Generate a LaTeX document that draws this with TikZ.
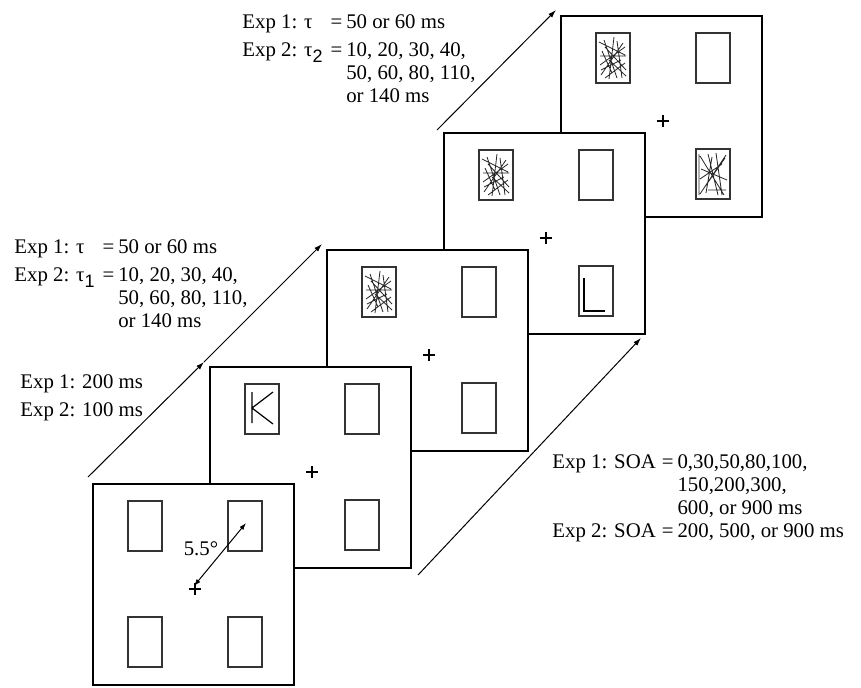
\documentclass[tikz,border=0pt]{standalone}
\usepackage{fontspec}
\setmainfont{Liberation Serif}
\setsansfont{Liberation Sans}
\usetikzlibrary{arrows.meta}

% subscript digit as in the original figure
\newcommand{\sub}[1]{\raisebox{-3pt}{\sffamily\fontsize{9}{9}\selectfont #1}}

% one display: frame, four placeholders and the fixation cross
\newcommand{\stimframe}[2]{%
\draw[frm] (#1,#2) rectangle ++(201,201);
\foreach \dx in {35,135} \foreach \dy in {17,133} {\draw[slot] (#1+\dx,#2+\dy) rectangle ++(34,50);}
\draw[crossline] (#1+96,#2+105) -- ++(12,0) (#1+102,#2+99) -- ++(0,12);
}
\newcommand{\maskA}[2]{%
\begin{scope}[shift={(#1,#2)}]
\draw[maskline] (3,9)--(29,22) (8,7)--(21,45) (18,4)--(13,46) (27,10)--(5,42)
  (4,23)--(30,23) (4,32)--(29,14) (9,14)--(30,37) (5,37)--(25,27)
  (21,8)--(26,45) (29,30)--(9,45) (13,27)--(30,43) (6,18)--(16,40);
\end{scope}}
\newcommand{\maskB}[2]{%
\begin{scope}[shift={(#1,#2)}]
\draw[maskline] (3,5)--(3,46) (4,7)--(28,46) (4,45)--(30,6) (12,5)--(22,46)
  (29,9)--(8,39) (5,20)--(31,31) (12,41)--(30,41) (20,4)--(26,46)
  (4,30)--(26,15) (16,8)--(10,44);
\end{scope}}

\begin{document}
\begin{tikzpicture}[x=0.5pt,y=-0.5pt,
  frm/.style={line width=0.6pt,fill=white},
  slot/.style={draw=black!80,line width=0.6pt},
  crossline/.style={line width=0.6pt},
  maskline/.style={line width=0.4pt,black!85},
  longarrow/.style={line width=0.5pt,-{Latex[length=4pt,width=2.6pt]}},
  txt/.style={inner sep=0pt,anchor=base west,font=\fontsize{10.4}{11.5}\selectfont}]
\useasboundingbox (0,0) rectangle (861,687);

% displays, back to front
\stimframe{561}{16}
\maskA{596}{33}
\maskB{696}{149}
\stimframe{444}{133}
\maskA{479}{150}
\draw[line width=0.6pt] (584,278) -- (584,311) -- (605,311);
\stimframe{327}{250}
\maskA{362}{267}
\stimframe{210}{367}
\draw[line width=0.6pt] (252,392) -- (252,423) (273,392) -- (252,408) -- (273,424);
\stimframe{93}{484}

% eccentricity
\coordinate (fix) at (194,586);
\coordinate (tr) at (246,523);
\draw[line width=0.5pt,{Latex[length=3.5pt,width=2.4pt]}-{Latex[length=3.5pt,width=2.4pt]}] (fix) -- (tr);
\node[inner sep=0pt,font=\fontsize{10.4}{11}\selectfont] (ecc) at (201,549) {5.5°};

% time arrows
\coordinate (a0) at (88,477);
\coordinate (a1) at (204,362);
\coordinate (a2) at (322,244);
\coordinate (b0) at (437,130);
\coordinate (b1) at (556,10);
\coordinate (c0) at (418,575);
\coordinate (c1) at (641,338);
\draw[longarrow] (a0) -- (a1);
\draw[longarrow] (a1) -- (a2);
\draw[longarrow] (b0) -- (b1);
\draw[longarrow] (c0) -- (c1);

% labels
\node[txt] (tautwo) at (242,28) {\begin{tabular}[t]{@{}l@{\hspace{4pt}}l@{\hspace{2pt}}l@{}}
Exp 1: τ & = & 50 or 60 ms\\[2.5pt]
Exp 2: τ\sub{2} & = & 10, 20, 30, 40,\\
 & & 50, 60, 80, 110,\\
 & & or 140 ms
\end{tabular}};
\node[txt] (tauone) at (14,253) {\begin{tabular}[t]{@{}l@{\hspace{4pt}}l@{\hspace{2pt}}l@{}}
Exp 1: τ & = & 50 or 60 ms\\[2.5pt]
Exp 2: τ\sub{1} & = & 10, 20, 30, 40,\\
 & & 50, 60, 80, 110,\\
 & & or 140 ms
\end{tabular}};
\node[txt] (dur) at (20,388) {\begin{tabular}[t]{@{}l@{}}
Exp 1: 200 ms\\[2.5pt]
Exp 2: 100 ms
\end{tabular}};
\node[txt] (soa) at (552,468) {\begin{tabular}[t]{@{}l@{\hspace{3pt}}l@{\hspace{2pt}}l@{}}
Exp 1: SOA & = & 0,30,50,80,100,\\
 & & 150,200,300,\\
 & & 600, or 900 ms\\
Exp 2: SOA & = & 200, 500, or 900 ms
\end{tabular}};
\end{tikzpicture}
\end{document}
